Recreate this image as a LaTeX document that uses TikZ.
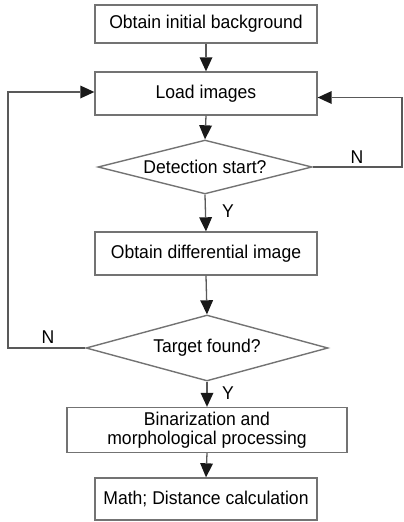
\documentclass[tikz,border=0pt]{standalone}
\usepackage{fontspec}
\setmainfont{Liberation Sans}[FakeStretch=0.95]
\usetikzlibrary{shapes.geometric,arrows.meta}
\begin{document}
\begin{tikzpicture}[x=1pt,y=-1pt,
  font=\fontsize{18.5}{19}\selectfont,
  stepbox/.style={draw=black!55, line width=1.4pt, rectangle, minimum width=222pt, inner sep=0pt, align=center, fill=white},
  decision/.style={draw=black!55, line width=1.4pt, diamond, inner sep=0pt, align=center},
  conn/.style={draw=black!65, line width=1.3pt},
  arr/.style={conn, -{Triangle[length=14pt,width=13pt,fill=black!90,color=black!90,line width=0pt]}},
  lbl/.style={inner sep=0pt, text=black}
]
\useasboundingbox (0,0) rectangle (404,522);
\node[stepbox, minimum height=38pt] (b1) at (206,24) {Obtain initial background};
\node[stepbox, minimum height=43pt] (b2) at (206,93.5) {Load images};
\node[decision, aspect=3.96, minimum width=214pt, minimum height=54pt] (d1) at (205,167) {Detection start?};
\node[stepbox, minimum height=43pt] (b4) at (206,253.5) {Obtain differential image};
\node[decision, aspect=3.67, minimum width=242pt, minimum height=66pt] (d2) at (207,348) {Target found?};
\node[stepbox, minimum width=280pt, minimum height=45pt] (b6) at (207,430) {Binarization and\\morphological processing};
\node[stepbox, minimum height=42pt] (b7) at (206,499) {Math; Distance calculation};

\coordinate (rc) at (402,167);
\coordinate (lc) at (8,348);

\draw[arr] (b1.south) -- (b2.north);
\draw[arr] (b2.south) -- (d1.north);
\draw[arr] (d1.south) -- (b4.north);
\draw[arr] (b4.south) -- (d2.north);
\draw[arr] (d2.south) -- (b6.north);
\draw[arr] (b6.south) -- (b7.north);
\draw[arr] (d1.east) -- (rc) |- ([yshift=-4pt]b2.east);
\draw[arr] (d2.west) -- (lc) |- ([yshift=1.5pt]b2.west);

\node[lbl] (n1) at (357,157) {N};
\node[lbl] (n2) at (48,337) {N};
\node[lbl] (y1) at (228,211) {Y};
\node[lbl] (y2) at (228,393) {Y};
\end{tikzpicture}
\end{document}
